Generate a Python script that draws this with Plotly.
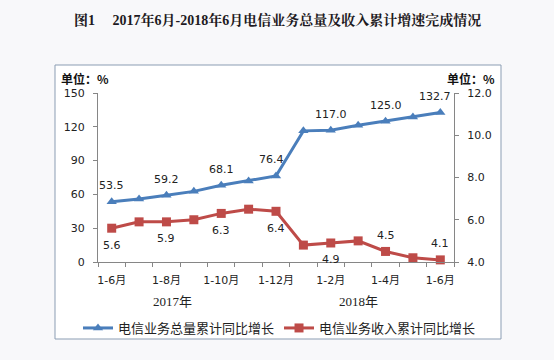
import plotly.graph_objects as go

# ---- data ----
categories = ["1-6月", "1-7月", "1-8月", "1-9月", "1-10月", "1-11月", "1-12月",
              "1月", "1-2月", "1-3月", "1-4月", "1-5月", "1-6月"]
years = ["2017年", "2018年"]
volume_growth = [53.5, 56.0, 59.2, 62.7, 68.1, 72.0, 76.4, 116.4, 117.0, 121.3, 125.0, 128.7, 132.7]
revenue_growth = [5.6, 5.9, 5.9, 6.0, 6.3, 6.5, 6.4, 4.8, 4.9, 5.0, 4.5, 4.2, 4.1]
labeled_idx = [0, 2, 4, 6, 8, 10, 12]
revenue_label_above = [False, False, False, False, False, True, True]
series_names = ["电信业务总量累计同比增长", "电信业务收入累计同比增长"]
title_text = "图1　 2017年6月-2018年6月电信业务总量及收入累计增速完成情况"
unit_text = "单位：%"

W, H = 554, 360
L, R, T, B = 98, 100, 93, 98
PW, PH = W - L - R, H - T - B


def px(x):
    return (x - L) / PW


def py(y):
    return (H - B - y) / PH


xs = list(range(1, len(categories) + 1))
BLUE = "#4a7ebb"
RED = "#be4b48"
AX = "#868686"
NUMFONT = "DejaVu Sans, Noto Sans CJK SC"
CJK = "Noto Sans CJK SC"

fig = go.Figure()
fig.add_trace(go.Scatter(
    x=xs, y=volume_growth, name=series_names[0], mode="lines+markers",
    line=dict(color=BLUE, width=3),
    marker=dict(symbol="triangle-up", size=9, color=BLUE),
    yaxis="y", cliponaxis=False,
))
fig.add_trace(go.Scatter(
    x=xs, y=revenue_growth, name=series_names[1], mode="lines+markers",
    line=dict(color=RED, width=3),
    marker=dict(symbol="square", size=9, color=RED),
    yaxis="y2", cliponaxis=False,
))

annotations = []
for i in labeled_idx:
    annotations.append(dict(
        x=xs[i], y=volume_growth[i], xref="x", yref="y",
        text=f"{volume_growth[i]:.1f}", showarrow=False, yshift=16,
        xshift=-5 if i in (6, 12) else 0,
        font=dict(family=NUMFONT, size=11, color="#222"),
    ))
for k, i in enumerate(labeled_idx):
    above = revenue_label_above[k]
    annotations.append(dict(
        x=xs[i], y=revenue_growth[i], xref="x", yref="y2",
        text=f"{revenue_growth[i]:.1f}", showarrow=False,
        yshift=16 if above else -17,
        font=dict(family=NUMFONT, size=11, color="#222"),
    ))

# title and unit labels
annotations.append(dict(x=px(277), y=py(20), xref="paper", yref="paper", text=f"<b>{title_text}</b>",
                        showarrow=False, xanchor="center", yanchor="middle",
                        font=dict(family="Liberation Serif, Noto Serif CJK SC, Noto Sans CJK SC", size=14, color="#1e1a22")))
annotations.append(dict(x=px(59), y=py(78), xref="paper", yref="paper", text=f"<b>{unit_text}</b>",
                        showarrow=False, xanchor="left", yanchor="middle",
                        font=dict(family=CJK, size=12, color="#111")))
annotations.append(dict(x=px(497), y=py(78), xref="paper", yref="paper", text=f"<b>{unit_text}</b>",
                        showarrow=False, xanchor="right", yanchor="middle",
                        font=dict(family=CJK, size=12, color="#111")))
# year group labels
for yr, xc in zip(years, [172, 358]):
    annotations.append(dict(x=px(xc), y=py(301), xref="paper", yref="paper", text=yr,
                            showarrow=False, xanchor="center", yanchor="middle",
                            font=dict(family="Liberation Serif, Noto Sans CJK SC", size=13, color="#222")))

fig.update_layout(
    width=W, height=H,
    margin=dict(l=L, r=R, t=T, b=B),
    paper_bgcolor="#f8f8fa",
    plot_bgcolor="rgba(0,0,0,0)",
    showlegend=True,
    legend=dict(orientation="h", x=px(78), y=py(328), xanchor="left", yanchor="middle",
                font=dict(family=CJK, size=13, color="#222"), bgcolor="rgba(0,0,0,0)",
                itemwidth=30),
    xaxis=dict(
        range=[0.5, len(categories) + 0.5],
        tickmode="array",
        tickvals=[xs[i] for i in labeled_idx],
        ticktext=[categories[i] for i in labeled_idx],
        ticks="", showline=True, linecolor=AX, linewidth=1, showgrid=False, zeroline=False,
        tickfont=dict(family=NUMFONT, size=11, color="#222"),
        ticklabelstandoff=8,
        minor=dict(tickmode="array", tickvals=[x + 0.5 for x in [0] + xs],
                   ticks="outside", ticklen=4, tickcolor=AX, showgrid=False),
    ),
    yaxis=dict(
        range=[0, 150], dtick=30, tick0=0, ticks="outside", ticklen=4, tickcolor=AX,
        showline=True, linecolor=AX, showgrid=False, zeroline=False,
        tickfont=dict(family=NUMFONT, size=11, color="#222"), ticklabelstandoff=6,
    ),
    yaxis2=dict(
        range=[4, 12], dtick=2, tick0=4, tickformat=".1f", overlaying="y", side="right",
        ticks="outside", ticklen=4, tickcolor=AX,
        showline=True, linecolor=AX, showgrid=False, zeroline=False,
        tickfont=dict(family=NUMFONT, size=11, color="#222"), ticklabelstandoff=6,
    ),
    annotations=annotations,
    shapes=[dict(type="rect", xref="paper", yref="paper", layer="below",
                 x0=px(55), x1=px(501), y0=py(339), y1=py(65),
                 line=dict(color="#8b9db3", width=1), fillcolor="white")],
)

fig.write_html("out.html", config={"displayModeBar": False},
               post_script="document.body.style.margin='0';document.body.style.background='#f8f8fa';")
